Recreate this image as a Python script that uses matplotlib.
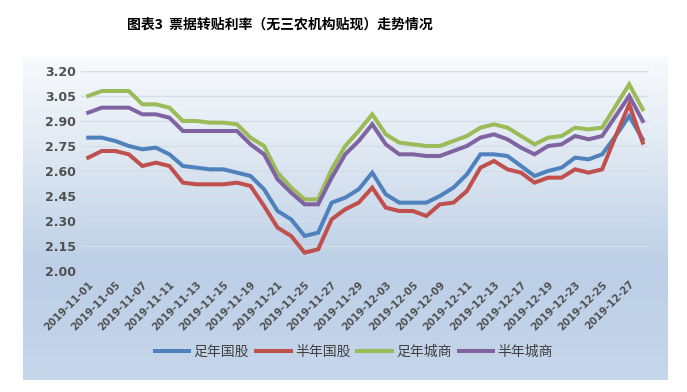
import numpy as np
import pandas as pd
import matplotlib
matplotlib.use("Agg")
import matplotlib.pyplot as plt
from matplotlib.colors import LinearSegmentedColormap

plt.rcParams["font.family"] = ["Noto Sans CJK SC", "DejaVu Sans"]

TITLE = "图表3  票据转贴利率（无三农机构贴现）走势情况"

dates = pd.bdate_range("2019-11-01", "2019-12-30").strftime("%Y-%m-%d").tolist()

full_gov = [2.80, 2.80, 2.78, 2.75, 2.73, 2.74, 2.70, 2.63, 2.62, 2.61, 2.61, 2.59, 2.57, 2.49,
            2.36, 2.31, 2.21, 2.23, 2.41, 2.44, 2.49, 2.59, 2.46, 2.41, 2.41, 2.41, 2.45, 2.50,
            2.58, 2.70, 2.70, 2.69, 2.63, 2.57, 2.60, 2.62, 2.68, 2.67, 2.70, 2.81, 2.93, 2.79]
half_gov = [2.68, 2.72, 2.72, 2.70, 2.63, 2.65, 2.63, 2.53, 2.52, 2.52, 2.52, 2.53, 2.51, 2.39,
            2.26, 2.21, 2.11, 2.13, 2.31, 2.37, 2.41, 2.50, 2.38, 2.36, 2.36, 2.33, 2.40, 2.41,
            2.48, 2.62, 2.66, 2.61, 2.59, 2.53, 2.56, 2.56, 2.61, 2.59, 2.61, 2.81, 3.00, 2.77]
full_city = [3.05, 3.08, 3.08, 3.08, 3.00, 3.00, 2.98, 2.90, 2.90, 2.89, 2.89, 2.88, 2.80, 2.75,
             2.59, 2.50, 2.43, 2.43, 2.61, 2.75, 2.84, 2.94, 2.82, 2.77, 2.76, 2.75, 2.75, 2.78,
             2.81, 2.86, 2.88, 2.86, 2.81, 2.76, 2.80, 2.81, 2.86, 2.85, 2.86, 2.99, 3.12, 2.97]
half_city = [2.95, 2.98, 2.98, 2.98, 2.94, 2.94, 2.92, 2.84, 2.84, 2.84, 2.84, 2.84, 2.76, 2.70,
             2.55, 2.47, 2.40, 2.40, 2.56, 2.70, 2.78, 2.88, 2.76, 2.70, 2.70, 2.69, 2.69, 2.72,
             2.75, 2.80, 2.82, 2.79, 2.74, 2.70, 2.75, 2.76, 2.81, 2.79, 2.81, 2.93, 3.05, 2.90]

series = [
    ("足年国股", full_gov, "#4f81bd"),
    ("半年国股", half_gov, "#c0504d"),
    ("足年城商", full_city, "#9bbb59"),
    ("半年城商", half_city, "#8064a2"),
]
y_ticks = [2.00, 2.15, 2.30, 2.45, 2.60, 2.75, 2.90, 3.05, 3.20]

fig = plt.figure(figsize=(6.87, 3.92), dpi=100)
fig.patch.set_facecolor("white")

# gradient panel behind the chart
bg = fig.add_axes([0.034, 0.031, 0.938, 0.824], zorder=0)
grad = LinearSegmentedColormap.from_list(
    "panel", [(0.0, "#f8fafd"), (0.3, "#dfe8f2"), (0.65, "#bccfe6"), (1.0, "#c6d6eb")])
bg.imshow(np.linspace(0, 1, 256)[:, None], aspect="auto", cmap=grad, extent=[0, 1, 0, 1])
bg.set_axis_off()

ax = fig.add_axes([0.1186, 0.3087, 0.8268, 0.5102], zorder=1)
ax.patch.set_alpha(0)
x = np.arange(len(dates))
for name, vals, color in series:
    ax.plot(x, vals, color=color, lw=2.9, label=name, solid_joinstyle="miter")

ax.set_xlim(-0.5, len(dates) - 0.5)
ax.set_ylim(2.00, 3.20)
ax.set_yticks(y_ticks)
ax.set_yticklabels([f"{v:.2f}" for v in y_ticks], fontsize=9, fontweight="bold",
                   color="#505050", family=["DejaVu Sans"])
ax.set_xticks(x[::2])
ax.set_xticklabels(dates[::2], rotation=45, ha="right", va="top", rotation_mode="anchor",
                   fontsize=7.3, fontweight="bold", color="#505050", family=["DejaVu Sans"])
ax.tick_params(length=0, pad=4)
ax.tick_params(axis="x", pad=6)
ax.grid(axis="y", color="#d5dde8", lw=1)
ax.set_axisbelow(True)
for s in ax.spines.values():
    s.set_visible(False)

fig.legend(loc="center", bbox_to_anchor=(0.515, 0.102), ncol=4, frameon=False,
           fontsize=10, handlelength=2.5, handletextpad=0.3, columnspacing=0.5,
           labelcolor="#404040")

fig.text(0.408, 0.937, TITLE, ha="center", va="center", fontsize=10, fontweight="bold")

fig.savefig("out.png", dpi=100)
